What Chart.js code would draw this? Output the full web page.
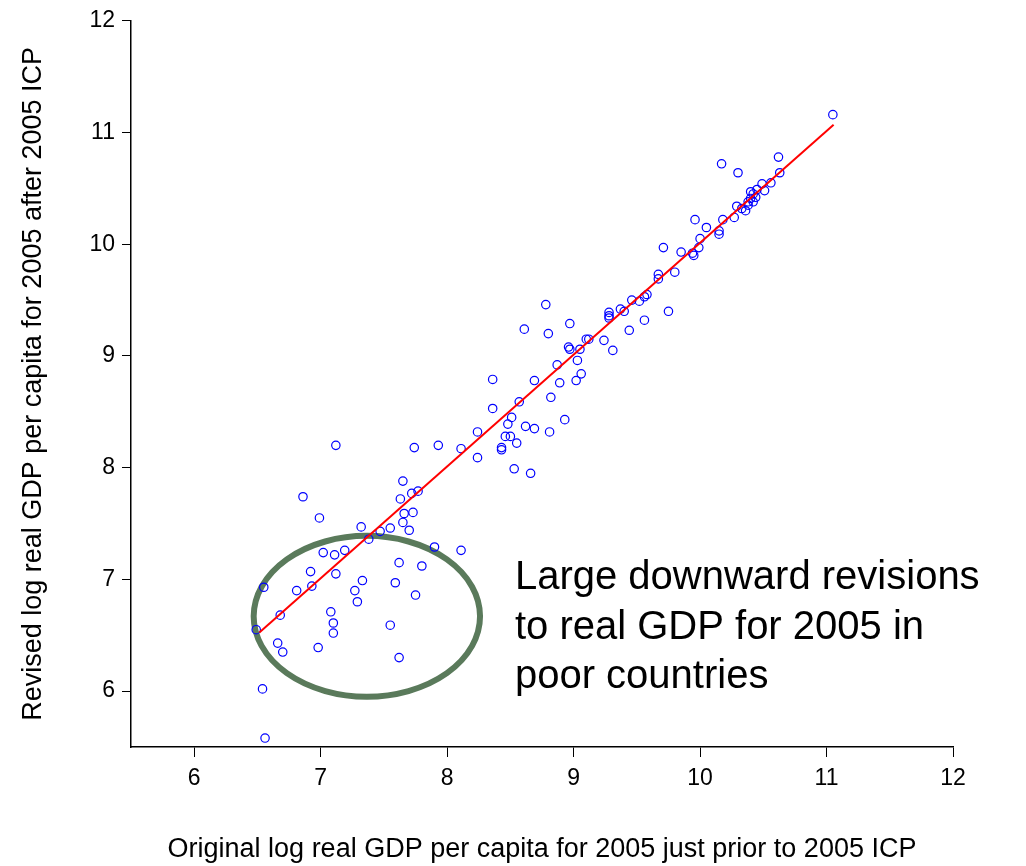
<!DOCTYPE html>
<html lang="en">
<head>
    <meta charset="UTF-8">
    <title>Revised vs original log real GDP per capita, 2005</title>
    <script src="https://cdn.jsdelivr.net/npm/chart.js"></script>
    <style>
        body { margin: 0; background: #fff; }
        canvas { display: block; }
    </style>
</head>
<body>
    <canvas id="scatter" width="1026" height="866"></canvas>

    <script>
        // Original log real GDP per capita (x) and revised value after 2005 ICP (y)
        const originalGdp = [
            7.12, 7.74, 7.93, 8.11, 8.24, 8.24, 7.65, 7.63, 7.72, 7.77,
            7.66, 7.73, 7.65, 7.70, 7.55, 7.47, 7.32, 7.38, 6.86, 6.99,
            7.02, 7.11, 7.19, 6.92, 6.93, 6.81, 7.12, 6.55, 6.68, 6.49,
            6.66, 6.70, 6.98, 7.08, 7.10, 7.10, 7.27, 7.33, 7.29, 7.62,
            7.59, 7.80, 7.75, 7.55, 7.62, 7.90, 8.11, 6.54, 6.56,
            8.78, 8.61, 8.80, 8.97, 8.96, 8.97, 9.05, 9.10, 9.12, 9.03,
            9.06, 9.02, 8.87, 8.89, 8.82, 8.69, 8.57, 8.36, 8.36, 8.51,
            8.48, 8.62, 8.69, 8.81, 8.93, 8.46, 8.50, 8.55, 8.43, 8.43,
            8.53, 8.66, 9.24, 9.31, 9.28, 9.28, 9.28, 9.37, 9.40, 9.44,
            9.56, 9.46, 9.52, 9.56, 9.58,
            10.17, 10.30, 10.62, 10.63, 10.56, 10.49, 10.51, 10.45, 10.40, 10.42,
            10.44, 10.40, 10.38, 10.42, 10.38, 10.36, 10.29, 10.33, 10.27, 10.18,
            9.96, 10.05, 10.15, 10.15, 10.00, 9.99, 9.85, 9.94, 9.95, 9.71,
            9.80, 9.67, 9.67, 9.75, 11.05
        ];
        const revisedGdp = [
            8.20, 8.18, 8.20, 8.17, 8.32, 8.09, 7.88, 7.72, 7.77, 7.79,
            7.59, 7.60, 7.51, 7.44, 7.46, 7.43, 7.47, 7.36, 7.74, 7.55,
            7.24, 7.22, 7.26, 7.07, 6.94, 6.90, 7.05, 6.93, 6.68, 6.55,
            6.43, 6.35, 6.39, 6.71, 6.61, 6.52, 6.90, 6.99, 6.80, 7.15,
            6.97, 7.12, 6.86, 6.59, 6.30, 7.29, 7.26, 6.02, 5.58,
            9.46, 9.24, 9.20, 9.29, 9.08, 9.06, 9.06, 9.15, 9.15, 8.96,
            8.84, 8.78, 8.92, 8.76, 8.63, 8.78, 8.59, 8.79, 8.53, 8.45,
            8.39, 8.37, 8.35, 8.32, 8.43, 8.28, 8.28, 8.22, 8.18, 8.16,
            7.99, 7.95, 9.14, 9.05, 9.39, 9.36, 9.34, 9.42, 9.40, 9.23,
            9.32, 9.50, 9.49, 9.53, 9.55,
            10.72, 10.64, 10.78, 10.64, 10.55, 10.54, 10.48, 10.49, 10.47, 10.45,
            10.42, 10.41, 10.38, 10.38, 10.35, 10.30, 10.34, 10.32, 10.24, 10.22,
            10.22, 10.15, 10.12, 10.09, 10.05, 9.97, 9.93, 9.92, 9.90, 9.97,
            9.75, 9.73, 9.69, 9.40, 11.16
        ];

        // fitted line end points
        const fitX = [6.515, 11.056];
        const fitY = [6.524, 11.069];

        const axisTicks = [6, 7, 8, 9, 10, 11, 12];

        // highlighted region (data units) and its note
        const circleCenter = [7.365, 6.67];
        const circleRadius = [0.895, 0.72];
        const noteAt = [8.536, 7.01];
        const noteLines = ['Large downward revisions', 'to real GDP for 2005 in', 'poor countries'];

        const points = originalGdp.map((x, i) => ({ x: x, y: revisedGdp[i] }));
        const fitPoints = fitX.map((x, i) => ({ x: x, y: fitY[i] }));

        const notePlugin = {
            id: 'note',
            beforeDatasetsDraw(chart) {
                const ctx = chart.ctx;
                const sx = chart.scales.x, sy = chart.scales.y;
                const cx = sx.getPixelForValue(circleCenter[0]);
                const cy = sy.getPixelForValue(circleCenter[1]);
                const rx = sx.getPixelForValue(circleCenter[0] + circleRadius[0]) - cx;
                const ry = cy - sy.getPixelForValue(circleCenter[1] + circleRadius[1]);
                ctx.save();
                ctx.beginPath();
                ctx.ellipse(cx, cy, rx, ry, 0, 0, Math.PI * 2);
                ctx.strokeStyle = '#5a7a5b';
                ctx.lineWidth = 6;
                ctx.stroke();
                ctx.restore();
            },
            afterDraw(chart) {
                const ctx = chart.ctx;
                const x = chart.scales.x.getPixelForValue(noteAt[0]);
                const y = chart.scales.y.getPixelForValue(noteAt[1]);
                ctx.save();
                ctx.font = '40px "Liberation Sans", Arial, sans-serif';
                ctx.fillStyle = '#000';
                ctx.textAlign = 'left';
                ctx.textBaseline = 'middle';
                noteLines.forEach((line, i) => ctx.fillText(line, x, y + i * 49.5));
                ctx.restore();
            }
        };

        const tickFont = { family: '"Liberation Sans", Arial, sans-serif', size: 23 };
        const titleFont = { family: '"Liberation Sans", Arial, sans-serif', size: 27 };

        new Chart(document.getElementById('scatter'), {
            type: 'scatter',
            data: {
                datasets: [
                    {
                        type: 'line',
                        data: fitPoints,
                        borderColor: '#ff0000',
                        borderWidth: 2,
                        pointRadius: 0,
                        fill: false
                    },
                    {
                        data: points,
                        pointStyle: 'circle',
                        pointRadius: 4.2,
                        borderWidth: 1.2,
                        borderColor: '#0000ff',
                        backgroundColor: 'rgba(0,0,0,0)'
                    }
                ]
            },
            options: {
                responsive: false,
                animation: false,
                events: [],
                layout: { padding: { top: 19, right: 73, left: 0, bottom: 0 } },
                plugins: {
                    legend: { display: false },
                    tooltip: { enabled: false }
                },
                scales: {
                    x: {
                        type: 'linear',
                        min: 5.5,
                        max: 12,
                        afterBuildTicks: s => { s.ticks = axisTicks.map(v => ({ value: v })); },
                        afterFit: s => { s.height = 119; },
                        grid: { drawOnChartArea: false, drawTicks: true, tickLength: 10, tickColor: '#000' },
                        border: { color: '#000', width: 1.5 },
                        ticks: { color: '#000', font: tickFont, padding: 8, maxRotation: 0 },
                        title: {
                            display: true,
                            text: 'Original log real GDP per capita for 2005 just prior to 2005 ICP',
                            color: '#000',
                            font: titleFont,
                            padding: { top: 0, bottom: 0 }
                        }
                    },
                    y: {
                        type: 'linear',
                        min: 5.5,
                        max: 12,
                        afterBuildTicks: s => { s.ticks = axisTicks.map(v => ({ value: v })); },
                        afterFit: s => { s.width = 131; },
                        grid: { drawOnChartArea: false, drawTicks: true, tickLength: 9, tickColor: '#000' },
                        border: { color: '#000', width: 1.5 },
                        ticks: { color: '#000', font: tickFont, padding: 7 },
                        title: {
                            display: true,
                            text: 'Revised log real GDP per capita for 2005 after 2005 ICP',
                            color: '#000',
                            font: titleFont,
                            padding: { top: 17, bottom: 0 }
                        }
                    }
                }
            },
            plugins: [notePlugin]
        });
    </script>
</body>
</html>
